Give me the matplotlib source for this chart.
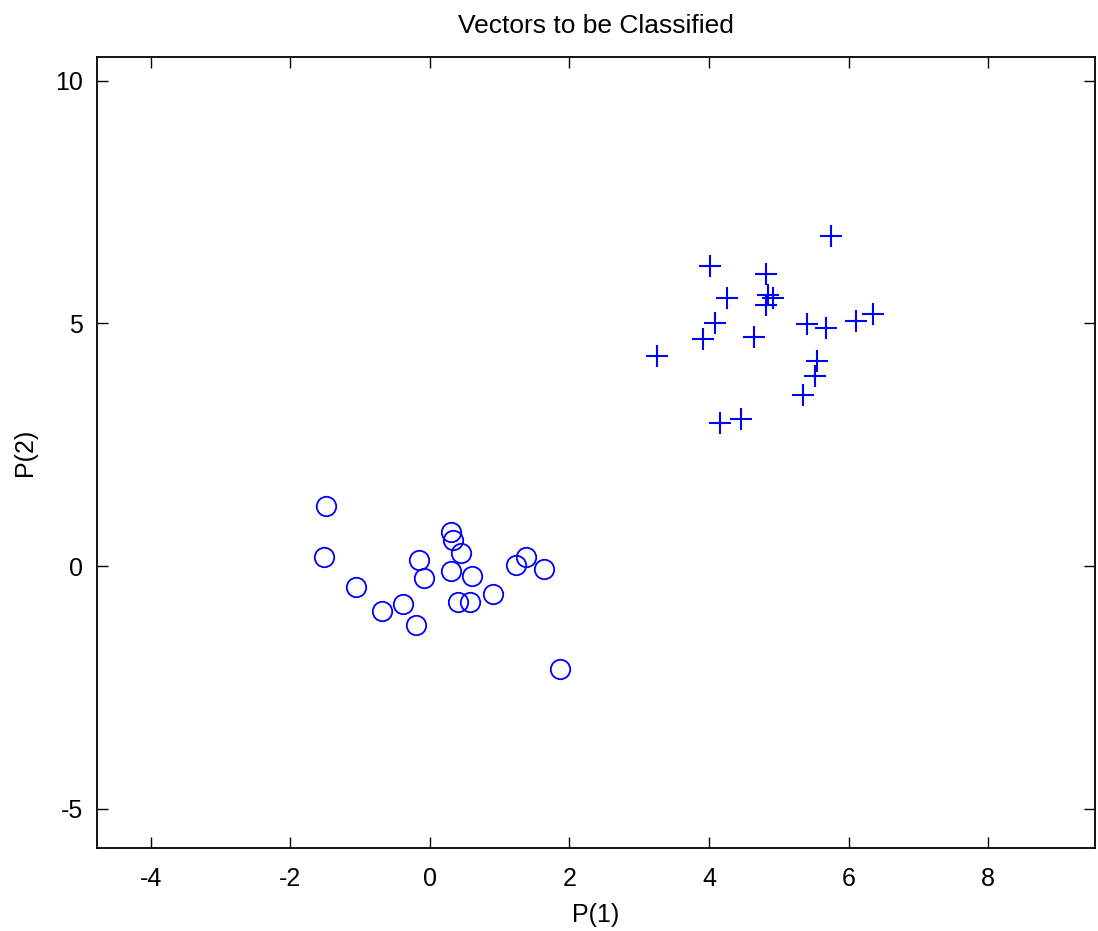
import matplotlib
matplotlib.use("Agg")
import matplotlib.pyplot as plt

# class 1 (circles) near the origin
circle_x = [-1.49, -1.52, -1.06, -0.69, -0.39, -0.20, -0.16, -0.09, 0.30, 0.33,
            0.44, 0.30, 0.61, 0.41, 0.57, 0.90, 1.23, 1.37, 1.63, 1.86]
circle_y = [1.24, 0.18, -0.44, -0.92, -0.78, -1.21, 0.12, -0.25, 0.71, 0.54,
            0.27, -0.10, -0.21, -0.73, -0.73, -0.58, 0.03, 0.19, -0.06, -2.12]

# class 2 (plus signs) around (5, 5)
plus_x = [5.75, 4.02, 4.82, 4.25, 4.85, 4.92, 4.82, 4.09, 3.92, 4.65,
          3.26, 5.41, 5.68, 6.11, 6.35, 5.54, 5.52, 5.35, 4.15, 4.46]
plus_y = [6.81, 6.19, 6.01, 5.53, 5.58, 5.53, 5.38, 5.00, 4.67, 4.72,
          4.33, 4.99, 4.90, 5.05, 5.19, 4.23, 3.92, 3.52, 2.95, 3.04]

x_ticks = [-4, -2, 0, 2, 4, 6, 8]
y_ticks = [-5, 0, 5, 10]

plt.rcParams['font.family'] = ['Liberation Sans', 'DejaVu Sans']
plt.rcParams['axes.unicode_minus'] = False

fig = plt.figure(figsize=(10.98, 9.31), dpi=100)
ax = fig.add_axes([0.0883, 0.0891, 0.909, 0.8497])

ax.plot(circle_x, circle_y, linestyle='none', marker='o', markersize=14,
        markerfacecolor='none', markeredgecolor='#0000ff', markeredgewidth=1.3)
ax.plot(plus_x, plus_y, linestyle='none', marker='+', markersize=16,
        color='#0000ff', markeredgewidth=1.5)

ax.set_xlim(-4.77, 9.53)
ax.set_ylim(-5.81, 10.49)
ax.set_xticks(x_ticks)
ax.set_yticks(y_ticks)
ax.tick_params(direction='in', length=8, width=1, top=True, right=True,
               labelsize=18, pad=10)
ax.tick_params(axis='x', pad=14)
for s in ax.spines.values():
    s.set_linewidth(1.3)

ax.set_title('Vectors to be Classified', fontsize=19, pad=17)
ax.set_xlabel('P(1)', fontsize=18, labelpad=8)
ax.set_ylabel('P(2)', fontsize=18, labelpad=13)

fig.savefig('out.png', dpi=100)
